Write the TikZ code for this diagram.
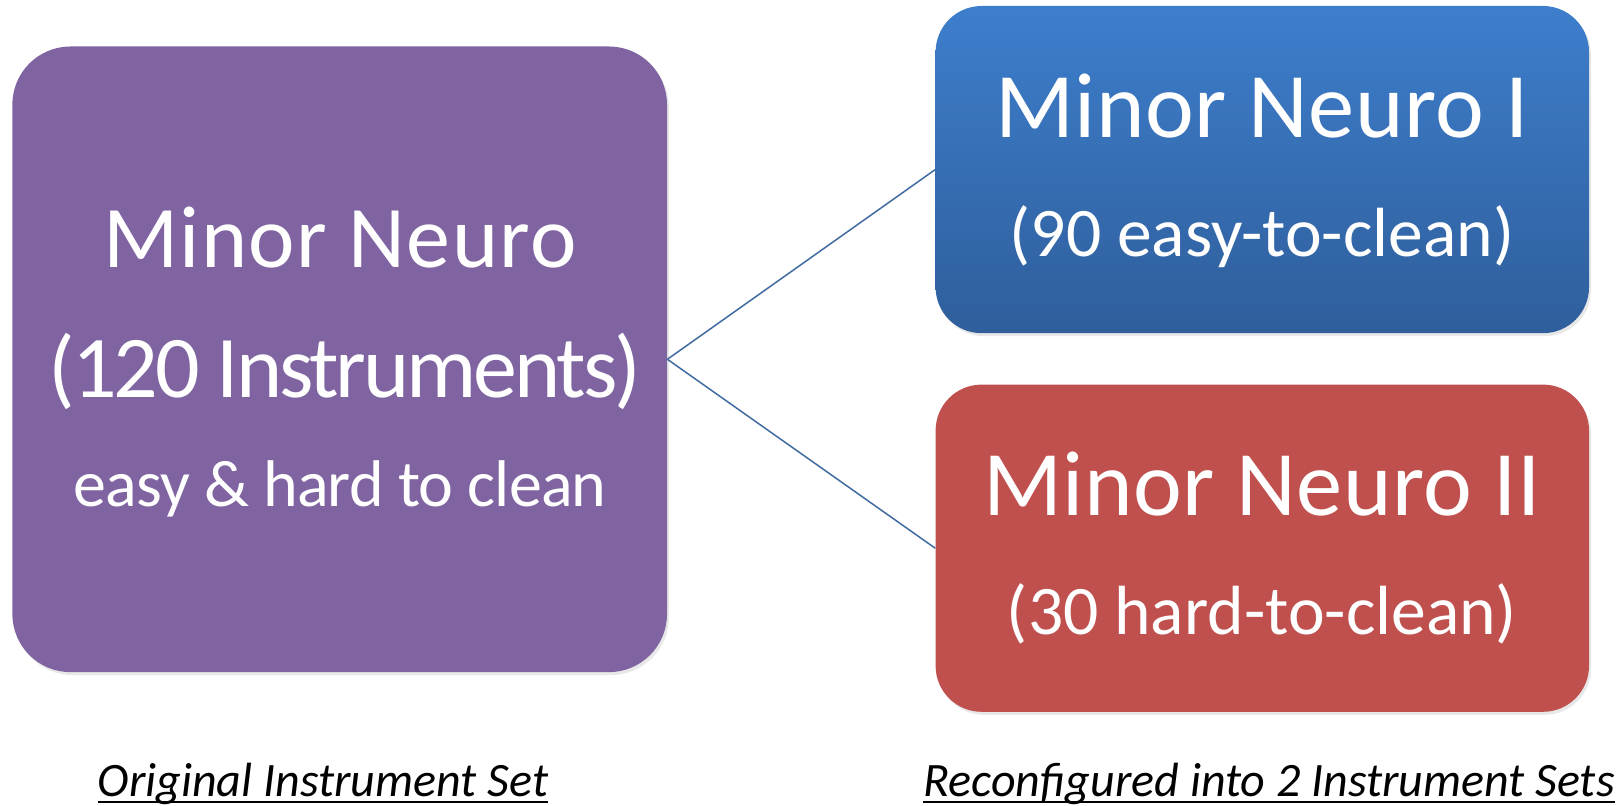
\documentclass[tikz,border=0pt]{standalone}
\usepackage{fontspec}
\setmainfont{Carlito}
\usetikzlibrary{positioning,shadows}

\definecolor{setpurple}{RGB}{128,100,162}
\definecolor{setred}{RGB}{192,80,77}
\definecolor{setbluetop}{RGB}{61,126,204}
\definecolor{setbluebot}{RGB}{47,94,155}
\definecolor{linkblue}{RGB}{64,106,160}

% underline close to the baseline
\newcommand{\capunder}[1]{\setbox0\hbox{#1}\rlap{\vrule width\wd0 height -2.5pt depth 3.5pt}\box0}

\begin{document}
\begin{tikzpicture}[x=0.5pt, y=-0.5pt,
    bigset/.style={rectangle, rounded corners=29pt, fill=setpurple, minimum width=327.3pt, minimum height=312.8pt, inner sep=0pt, drop shadow={shadow xshift=1pt, shadow yshift=-1.5pt, opacity=.18}},
    subset/.style={rectangle, rounded corners=23pt, minimum width=326.7pt, minimum height=163.6pt, inner sep=0pt, drop shadow={shadow xshift=1pt, shadow yshift=-1.5pt, opacity=.18}},
    title/.style={text=white, anchor=base, inner sep=0pt, font=\fontsize{44pt}{50pt}\selectfont\addfontfeature{LetterSpace=#1}},
    title/.default=0,
    subtitle/.style={text=white, anchor=base, inner sep=0pt, font=\fontsize{46.2pt}{52pt}\selectfont\addfontfeature{LetterSpace=0.6}},
    detail/.style={text=white, anchor=base, inner sep=0pt, font=\fontsize{34.8pt}{40pt}\selectfont},
    caption/.style={anchor=base, inner sep=0pt, font=\fontsize{24pt}{28pt}\selectfont\itshape},
    link/.style={draw=linkblue, line width=0.75pt}
]
\useasboundingbox (0,0) rectangle (1621,806);

% boxes
\node (orig) [bigset] at (339.7,359.3) {};
\node (setI) [subset, top color=setbluetop, bottom color=setbluebot] at (1262.3,169.6) {};
\node (setII) [subset, fill=setred, below=25.3pt of setI] {};

% box texts
\node (origA) [title=1.6] at (340,268) {Minor Neuro};
\node (origB) [title=-3.5] at (345,398) {(120 Instruments)};
\node (origC) [detail, font=\fontsize{33pt}{38pt}\selectfont\addfontfeature{LetterSpace=-1.2}] at (340,507) {easy \& hard to clean};

\node (setIA) [subtitle] at (1262,138) {Minor Neuro I};
\node (setIB) [detail] at (1262,257) {(90 easy-to-clean)};

\node (setIIA) [subtitle] at (1262,516) {Minor Neuro II};
\node (setIIB) [detail] at (1262,634) {(30 hard-to-clean)};

% links
\draw [link] (orig.east) -- (setI.west);
\draw [link] (orig.east) -- (setII.west);

% captions
\node (capL) [caption] at (323,796) {\capunder{Original Instrument Set}};
\node (capR) [caption] at (1269,796) {\capunder{Reconfigured into 2 Instrument Sets}};

\end{tikzpicture}
\end{document}
